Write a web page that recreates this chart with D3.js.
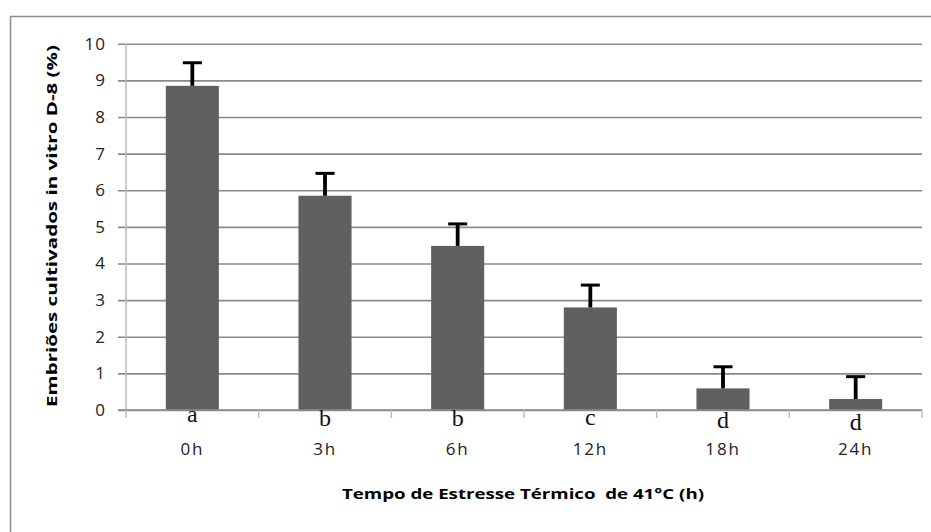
<!DOCTYPE html>
<html>
<head>
<meta charset="utf-8">
<script src="https://cdn.jsdelivr.net/npm/d3@7/dist/d3.min.js"></script>
<style>
  html, body { margin: 0; padding: 0; background: #fff; }
  svg { display: block; }
</style>
</head>
<body>
<svg id="chart" width="931" height="532"></svg>
<script>
// Heat-stress exposure times and embryo development rate (%)
const categories = ["0h", "3h", "6h", "12h", "18h", "24h"];
const values = [8.85, 5.85, 4.48, 2.80, 0.59, 0.30];
const errors = [0.63, 0.61, 0.60, 0.61, 0.59, 0.61];
const groupLetters = ["a", "b", "b", "c", "d", "d"];
const letterDrop = [0, 4, 4, 3, 6, 8];
const yTicks = [0, 1, 2, 3, 4, 5, 6, 7, 8, 9, 10];

const svg = d3.select("#chart");
const plotLeft = 126, plotRight = 922, plotTop = 43.7, plotBottom = 410;

// outer chart frame (clipped at right and bottom)
svg.append("rect")
  .attr("x", 10.5).attr("y", 16.5)
  .attr("width", 960).attr("height", 560)
  .attr("fill", "none").attr("stroke", "#8c8c8c").attr("stroke-width", 1.5);

const x = d3.scaleBand()
  .domain(categories)
  .range([plotLeft, plotRight])
  .paddingInner(0.6)
  .paddingOuter(0.3);

const y = d3.scaleLinear().domain([0, 10]).range([plotBottom, plotTop]);

// horizontal gridlines with outward ticks on the left
const yAxis = d3.axisLeft(y)
  .tickValues(yTicks)
  .tickSize(-(plotRight - plotLeft))
  .tickSizeOuter(0)
  .tickPadding(20)
  .tickFormat(d3.format("d"));

const gy = svg.append("g")
  .attr("transform", `translate(${plotLeft},0)`)
  .call(yAxis);
gy.select(".domain").remove();
gy.selectAll(".tick line")
  .attr("x1", -8)
  .attr("stroke", "#8a8a8a")
  .attr("stroke-width", 1.6);
gy.selectAll(".tick text")
  .attr("font-family", "'Open Sans', sans-serif")
  .attr("font-size", 17)
  .attr("letter-spacing", 1)
  .attr("fill", "#222");

// vertical axis line
svg.append("line")
  .attr("x1", plotLeft).attr("x2", plotLeft)
  .attr("y1", plotTop).attr("y2", plotBottom)
  .attr("stroke", "#bcbcbc").attr("stroke-width", 1.5);

// bars
svg.append("g").selectAll("rect")
  .data(categories)
  .join("rect")
  .attr("x", d => x(d))
  .attr("width", x.bandwidth())
  .attr("y", (d, i) => y(values[i]))
  .attr("height", (d, i) => y(0) - y(values[i]))
  .attr("fill", "#606060");

// upper error bars
const eg = svg.append("g").attr("stroke", "#000");
categories.forEach((c, i) => {
  const cx = x(c) + x.bandwidth() / 2;
  eg.append("line")
    .attr("stroke-width", 3.8)
    .attr("x1", cx).attr("x2", cx)
    .attr("y1", y(values[i])).attr("y2", y(values[i] + errors[i]));
  eg.append("line")
    .attr("stroke-width", 3)
    .attr("x1", cx - 9.5).attr("x2", cx + 9.5)
    .attr("y1", y(values[i] + errors[i])).attr("y2", y(values[i] + errors[i]));
});

// category axis
const xAxis = d3.axisBottom(x).tickSize(0).tickSizeOuter(0).tickPadding(0).tickFormat(d => d);
const gx = svg.append("g").attr("transform", `translate(0,${plotBottom})`).call(xAxis);
gx.select(".domain").remove();
gx.selectAll(".tick text")
  .attr("y", 45)
  .attr("dy", 0)
  .attr("font-family", "'Open Sans', sans-serif")
  .attr("font-size", 17)
  .attr("letter-spacing", 1.8)
  .attr("fill", "#222");

svg.append("line")
  .attr("x1", plotLeft - 8).attr("x2", plotRight)
  .attr("y1", plotBottom).attr("y2", plotBottom)
  .attr("stroke", "#8a8a8a").attr("stroke-width", 1.6);

// category separators below the baseline
const seps = categories.map(c => x(c) - x.step() * x.paddingInner() / 2).concat([plotRight]);
svg.append("g").selectAll("line")
  .data(seps)
  .join("line")
  .attr("x1", d => d).attr("x2", d => d)
  .attr("y1", plotBottom).attr("y2", plotBottom + 8)
  .attr("stroke", "#bcbcbc").attr("stroke-width", 1.5);

// significance letters
svg.append("g").selectAll("text")
  .data(categories)
  .join("text")
  .attr("x", d => x(d) + x.bandwidth() / 2)
  .attr("y", (d, i) => 422 + letterDrop[i])
  .attr("text-anchor", "middle")
  .attr("font-family", "'Liberation Serif', serif")
  .attr("font-size", 24)
  .attr("fill", "#111")
  .text((d, i) => groupLetters[i]);

// axis titles
svg.append("text")
  .attr("x", 523).attr("y", 499)
  .attr("text-anchor", "middle")
  .attr("font-family", "'Open Sans', sans-serif")
  .attr("font-weight", "bold")
  .attr("font-size", 15)
  .attr("textLength", 362)
  .attr("lengthAdjust", "spacingAndGlyphs")
  .style("white-space", "pre")
  .attr("fill", "#000")
  .text("Tempo de Estresse Térmico  de 41°C (h)");

svg.append("text")
  .attr("transform", "translate(57,226) rotate(-90)")
  .attr("text-anchor", "middle")
  .attr("font-family", "'Open Sans', sans-serif")
  .attr("font-weight", "bold")
  .attr("font-size", 15)
  .attr("textLength", 362)
  .attr("lengthAdjust", "spacingAndGlyphs")
  .attr("fill", "#000")
  .text("Embriões cultivados in vitro D-8 (%)");
</script>
</body>
</html>
